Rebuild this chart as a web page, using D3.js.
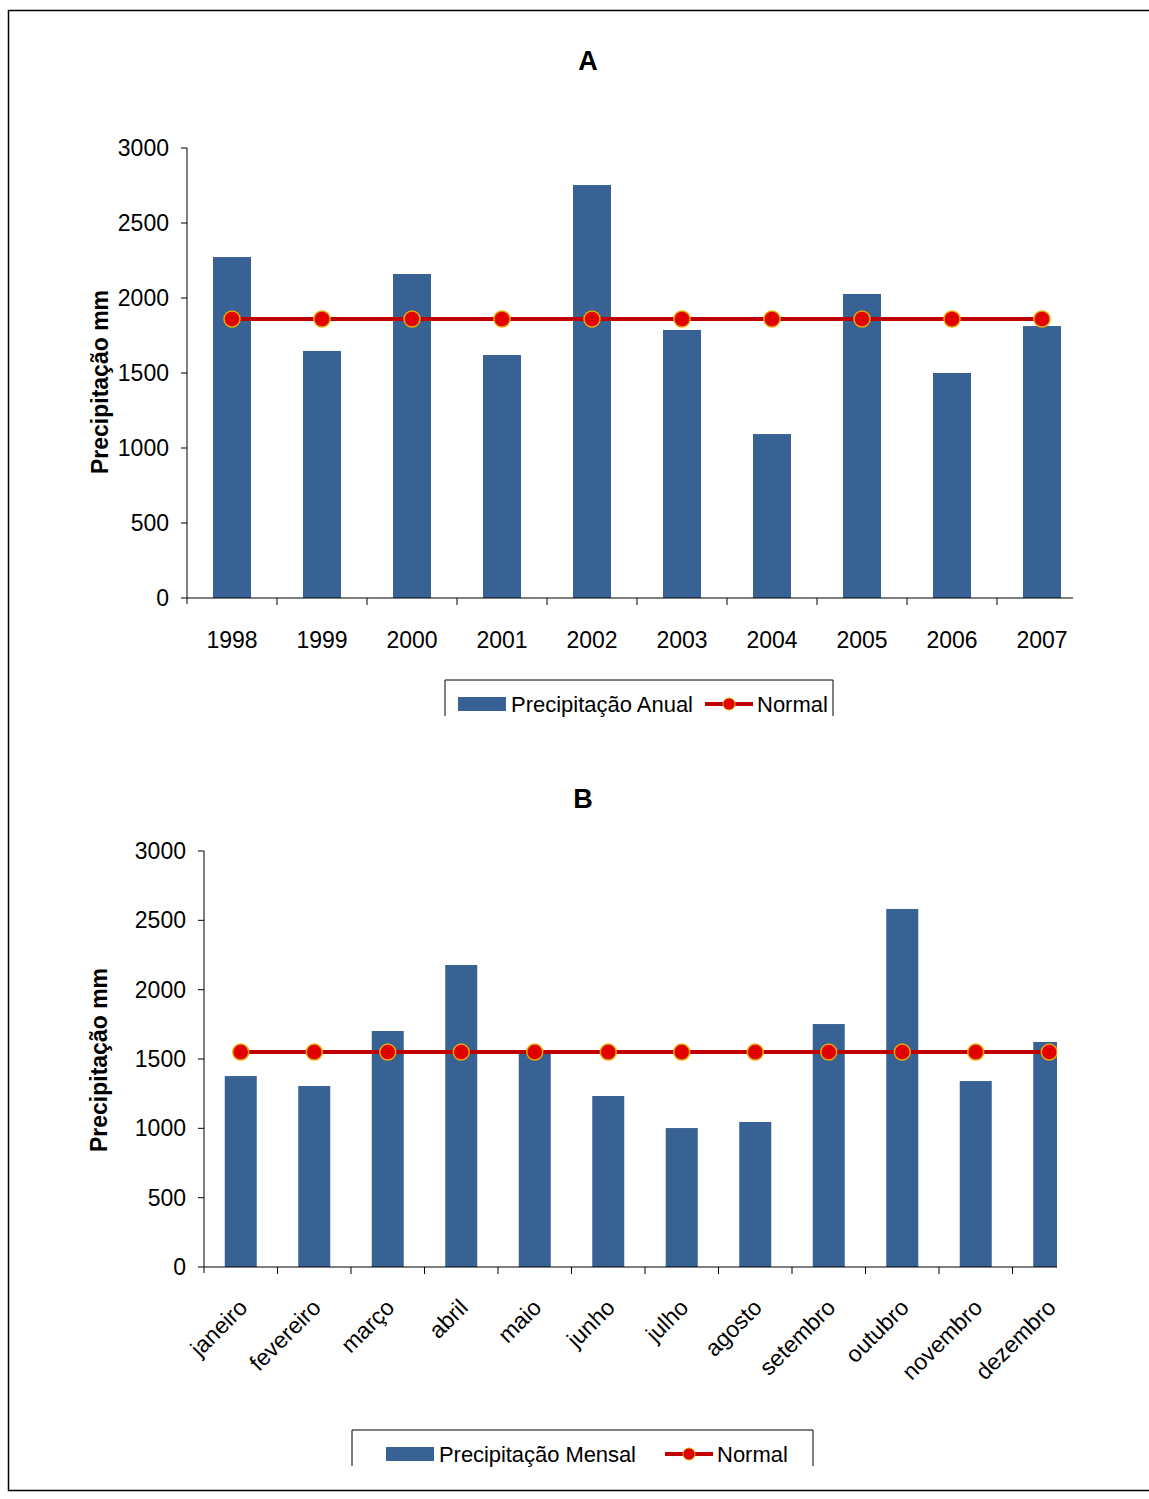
<!DOCTYPE html>
<html>
<head>
<meta charset="utf-8">
<script src="https://cdn.jsdelivr.net/npm/d3@7"></script>
<style>body{margin:0;background:#fff}</style>
</head>
<body>
<div id="main"></div>
<script>
// chart A - annual
const years = ["1998","1999","2000","2001","2002","2003","2004","2005","2006","2007"];
const annual = [2273,1647,2160,1620,2753,1787,1093,2027,1500,1813];
const annualNormal = 1860;
// chart B - monthly
const months = ["janeiro","fevereiro","março","abril","maio","junho","julho","agosto","setembro","outubro","novembro","dezembro"];
const monthly = [1377,1305,1702,2178,1565,1233,1002,1046,1752,2582,1341,1623];
const monthlyNormal = 1550;
const yTicks = [0,500,1000,1500,2000,2500,3000];

const svg = d3.select("#main").append("svg").attr("width",1149).attr("height",1499);
const font = "Liberation Sans, Arial, sans-serif";
svg.append("rect").attr("x",8.5).attr("y",10.5).attr("width",1150).attr("height",1480)
  .attr("fill","none").attr("stroke","#000").attr("stroke-width",1.5);

function chart(o) {
  const g = svg.append("g");
  const clipId = "clip" + o.id;
  svg.append("clipPath").attr("id",clipId).append("rect")
    .attr("x",o.x0-40).attr("y",o.yTop-20).attr("width",o.clipX-o.x0+40).attr("height",o.y0-o.yTop+40);
  const x = d3.scaleBand().domain(o.cats).range([o.x0, o.x0 + o.step*o.cats.length]);
  const y = d3.scaleLinear().domain([0,3000]).range([o.y0, o.yTop]);
  const cg = g.append("g").attr("clip-path",`url(#${clipId})`);

  cg.selectAll("rect.bar").data(o.vals).enter().append("rect")
    .attr("x",(d,i)=>x(o.cats[i])+x.bandwidth()/2-o.bw/2).attr("width",o.bw)
    .attr("y",d=>y(d)).attr("height",d=>o.y0-y(d)).attr("fill","#386194");

  // axes
  g.append("line").attr("x1",o.x0).attr("x2",o.clipX).attr("y1",o.y0).attr("y2",o.y0).attr("stroke","#000");
  g.append("line").attr("x1",o.x0).attr("x2",o.x0).attr("y1",o.y0+6).attr("y2",o.yTop).attr("stroke","#000");
  yTicks.forEach(t=>{
    g.append("line").attr("x1",o.x0-6).attr("x2",o.x0).attr("y1",y(t)).attr("y2",y(t)).attr("stroke","#000");
    g.append("text").attr("x",o.x0-18).attr("y",y(t)+8).attr("text-anchor","end")
      .attr("font-family",font).attr("font-size",23).text(t);
  });
  o.cats.forEach((c,i)=>{
    if (i>0) g.append("line").attr("x1",x(c)).attr("x2",x(c)).attr("y1",o.y0).attr("y2",o.y0+7).attr("stroke","#000");
    const cx = x(c)+x.bandwidth()/2;
    if (o.rot) {
      g.append("text").attr("transform",`translate(${cx+8},${o.y0+42}) rotate(-45)`)
        .attr("text-anchor","end").attr("font-family",font).attr("font-size",23).text(c);
    } else {
      g.append("text").attr("x",cx).attr("y",o.y0+50).attr("text-anchor","middle")
        .attr("font-family",font).attr("font-size",23).text(c);
    }
  });

  // normal line
  const line = d3.line().x((d,i)=>x(o.cats[i])+x.bandwidth()/2).y(()=>y(o.normal));
  cg.append("path").attr("d",line(o.cats)).attr("stroke","#c00000").attr("stroke-width",4).attr("fill","none");
  cg.selectAll("circle").data(o.cats).enter().append("circle")
    .attr("cx",d=>x(d)+x.bandwidth()/2).attr("cy",y(o.normal)).attr("r",8)
    .attr("fill","#e00000").attr("stroke","#e8a800").attr("stroke-width",1.5);

  g.append("text").attr("x",o.titleX).attr("y",o.titleY).attr("text-anchor","middle")
    .attr("font-family",font).attr("font-size",27).attr("font-weight","bold").text(o.title);
  g.append("text").attr("transform",`translate(${o.labelX},${o.labelY}) rotate(-90)`)
    .attr("text-anchor","middle").attr("font-family",font).attr("font-size",23).attr("font-weight","bold")
    .text("Precipitação mm");

  // legend (cut at bottom)
  const L = o.leg;
  g.append("path").attr("d",`M${L.x1},${L.y+36}V${L.y}H${L.x2}V${L.y+36}`).attr("fill","none").attr("stroke","#000");
  g.append("rect").attr("x",L.rx).attr("y",L.y+17).attr("width",48).attr("height",14).attr("fill","#386194");
  g.append("text").attr("x",L.rx+53).attr("y",L.y+32).attr("font-family",font).attr("font-size",22)
    .attr("textLength",L.tl).text(L.label);
  g.append("line").attr("x1",L.lx).attr("x2",L.lx+48).attr("y1",L.y+24).attr("y2",L.y+24).attr("stroke","#c00000").attr("stroke-width",4);
  g.append("circle").attr("cx",L.lx+24).attr("cy",L.y+24).attr("r",6).attr("fill","#e00000").attr("stroke","#e8a800");
  g.append("text").attr("x",L.lx+52).attr("y",L.y+32).attr("font-family",font).attr("font-size",22).text("Normal");
}

chart({id:"A",cats:years,vals:annual,normal:annualNormal,x0:187,step:90,clipX:1073,y0:598,yTop:148,bw:38,
  rot:false,title:"A",titleX:588,titleY:70,labelX:108,labelY:382,
  leg:{x1:445,x2:833,y:680,rx:458,tl:182,label:"Precipitação Anual",lx:705}});
chart({id:"B",cats:months,vals:monthly,normal:monthlyNormal,x0:204,step:73.5,clipX:1057,y0:1267,yTop:851,bw:32,
  rot:true,title:"B",titleX:583,titleY:808,labelX:107,labelY:1060,
  leg:{x1:352,x2:813,y:1430,rx:386,tl:197,label:"Precipitação Mensal",lx:665}});
</script>
</body>
</html>
